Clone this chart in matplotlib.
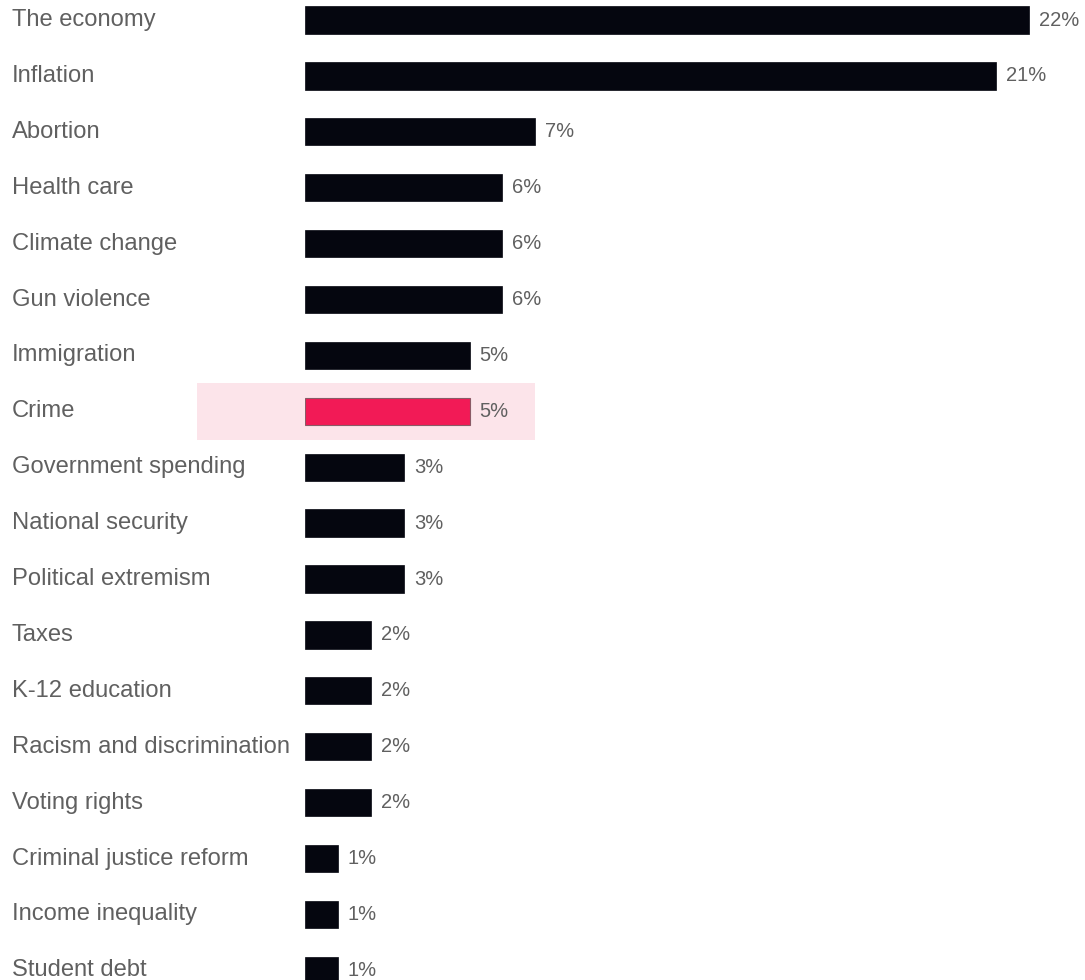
import matplotlib
matplotlib.use("Agg")
import matplotlib.pyplot as plt
from matplotlib.patches import Rectangle

categories = ["The economy", "Inflation", "Abortion", "Health care", "Climate change",
              "Gun violence", "Immigration", "Crime", "Government spending",
              "National security", "Political extremism", "Taxes", "K-12 education",
              "Racism and discrimination", "Voting rights", "Criminal justice reform",
              "Income inequality", "Student debt"]
values = [22, 21, 7, 6, 6, 6, 5, 5, 3, 3, 3, 2, 2, 2, 2, 1, 1, 1]
highlight = "Crime"

plt.rcParams['font.family'] = ['Liberation Sans', 'DejaVu Sans']

W, H = 1085, 980
fig = plt.figure(figsize=(W / 100, H / 100), dpi=100)
fig.patch.set_facecolor("white")
ax = fig.add_axes([305 / W, 0, (W - 305) / W, 1])
ax.set_facecolor("none")

px_per_unit = (1029 - 305) / 22
row = 55.9
ax.set_xlim(0, (W - 305) / px_per_unit)
ax.set_ylim((H - 20) / row, -20 / row)

dark = "#05060F"
pink = "#F21A56"
text_col = "#606060"

for i, (c, v) in enumerate(zip(categories, values)):
    if c == highlight:
        ax.add_patch(Rectangle((-108 / px_per_unit, i - 0.51), (535 - 197) / px_per_unit, 1.02,
                               facecolor="#FCE4EA", edgecolor="none", clip_on=False, zorder=0))
        ax.barh(i, v, height=0.49, color=pink, edgecolor="#8A5A66", linewidth=0.8, zorder=2)
    else:
        ax.barh(i, v, height=0.49, color=dark, edgecolor=dark, linewidth=0.5, zorder=2)
    ax.text(v + 10 / px_per_unit, i, f"{v}%", va="center", ha="left",
            fontsize=14.5, color=text_col, zorder=3)
    fig.text(12 / W, 1 - (20 + i * row) / H, c, va="center", ha="left",
             fontsize=17.1, color=text_col)

ax.axis("off")
fig.savefig("out.png", dpi=100, facecolor="white")
